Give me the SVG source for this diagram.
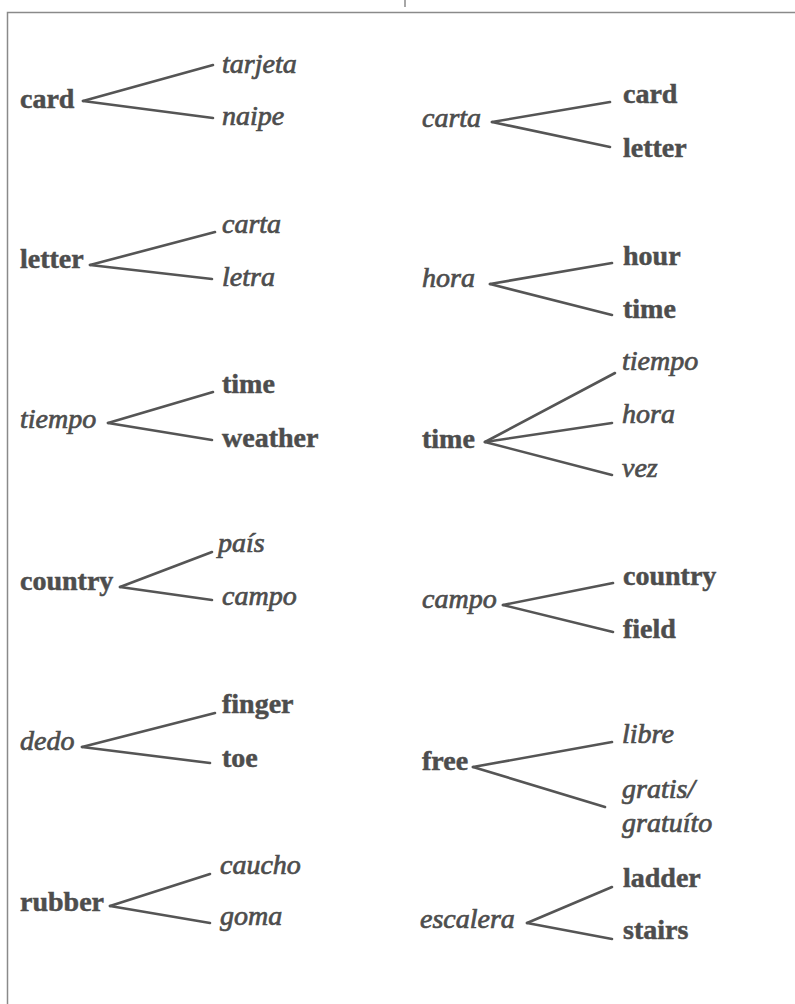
<svg xmlns="http://www.w3.org/2000/svg" width="795" height="1004" viewBox="0 0 795 1004">
<style>
text{font-family:"Liberation Serif","Times New Roman",serif;font-size:28px;fill:#4d4d4d;stroke:#4d4d4d;stroke-width:0.5}
.en{font-weight:bold}
.es{font-style:italic;stroke-width:0.7}
.c line{stroke:#555;stroke-width:2.6;stroke-linecap:round}
.frame{stroke:#8a8a8a;stroke-width:1.5;fill:none}
</style>
<rect width="795" height="1004" fill="#fff"/>
<g id="frame">
<path class="frame" d="M7.5,1004 V12.5 H795"/>
<line class="frame" x1="405" y1="0" x2="405" y2="7"/>
</g>
<g id="connectors" class="c">
<line x1="83" y1="101" x2="213" y2="65"/><line x1="83" y1="101" x2="213" y2="118"/>
<line x1="90" y1="265" x2="215" y2="232"/><line x1="90" y1="265" x2="212" y2="279"/>
<line x1="108" y1="423" x2="213" y2="392"/><line x1="108" y1="423" x2="212" y2="440"/>
<line x1="120" y1="587" x2="212" y2="552"/><line x1="120" y1="587" x2="212" y2="600"/>
<line x1="82" y1="747" x2="215" y2="713"/><line x1="82" y1="747" x2="210" y2="763"/>
<line x1="110" y1="906" x2="210" y2="874"/><line x1="110" y1="906" x2="210" y2="923"/>
<line x1="492" y1="122" x2="610" y2="102"/><line x1="492" y1="122" x2="610" y2="147"/>
<line x1="490" y1="284" x2="612" y2="263"/><line x1="490" y1="284" x2="612" y2="315"/>
<line x1="485" y1="442" x2="615" y2="373"/><line x1="485" y1="442" x2="612" y2="423"/><line x1="485" y1="442" x2="612" y2="475"/>
<line x1="503" y1="605" x2="613" y2="583"/><line x1="503" y1="605" x2="613" y2="632"/>
<line x1="473" y1="767" x2="612" y2="742"/><line x1="473" y1="767" x2="605" y2="807"/>
<line x1="527" y1="923" x2="612" y2="887"/><line x1="527" y1="923" x2="612" y2="939"/>
</g>
<g id="node-card"><text class="en" x="20" y="108">card</text><text class="es" x="222" y="73">tarjeta</text><text class="es" x="222" y="125">naipe</text></g>
<g id="node-letter"><text class="en" x="20" y="268">letter</text><text class="es" x="222" y="233">carta</text><text class="es" x="222" y="286">letra</text></g>
<g id="node-tiempo"><text class="es" x="20" y="428">tiempo</text><text class="en" x="222" y="393">time</text><text class="en" x="222" y="447">weather</text></g>
<g id="node-country"><text class="en" x="20" y="590">country</text><text class="es" x="218" y="552">país</text><text class="es" x="222" y="605">campo</text></g>
<g id="node-dedo"><text class="es" x="20" y="750">dedo</text><text class="en" x="222" y="713">finger</text><text class="en" x="222" y="767">toe</text></g>
<g id="node-rubber"><text class="en" x="20" y="911">rubber</text><text class="es" x="220" y="874">caucho</text><text class="es" x="220" y="925">goma</text></g>
<g id="node-carta"><text class="es" x="422" y="127">carta</text><text class="en" x="623" y="103">card</text><text class="en" x="623" y="157">letter</text></g>
<g id="node-hora"><text class="es" x="422" y="287">hora</text><text class="en" x="623" y="265">hour</text><text class="en" x="623" y="318">time</text></g>
<g id="node-time"><text class="en" x="422" y="448">time</text><text class="es" x="622" y="370">tiempo</text><text class="es" x="622" y="423">hora</text><text class="es" x="622" y="477">vez</text></g>
<g id="node-campo"><text class="es" x="422" y="608">campo</text><text class="en" x="623" y="585">country</text><text class="en" x="623" y="638">field</text></g>
<g id="node-free"><text class="en" x="422" y="770">free</text><text class="es" x="622" y="743">libre</text><text class="es" x="622" y="798">gratis/</text><text class="es" x="622" y="832">gratuíto</text></g>
<g id="node-escalera"><text class="es" x="420" y="928">escalera</text><text class="en" x="623" y="887">ladder</text><text class="en" x="623" y="939">stairs</text></g>
</svg>
